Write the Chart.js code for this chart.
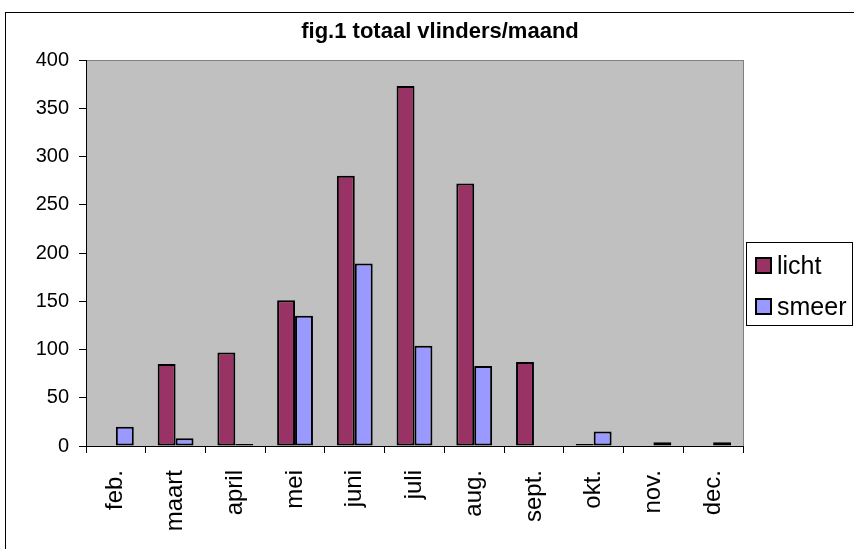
<!DOCTYPE html>
<html>
<head>
<meta charset="utf-8">
<style>
  html, body { margin: 0; padding: 0; background: #fff; }
  #wrap { width: 854px; height: 549px; }
</style>
<script src="https://cdn.jsdelivr.net/npm/chart.js@4/dist/chart.umd.min.js"></script>
</head>
<body>
<div id="wrap"><canvas id="myChart" width="854" height="549"></canvas></div>
<script>
// data
var months = ['feb.', 'maart', 'april', 'mei', 'juni', 'juli', 'aug.', 'sept.', 'okt.', 'nov.', 'dec.'];
var licht = [0, 85, 97, 151, 280, 373, 272, 87, 2, 0, 0];
var smeer = [20, 8, 2, 135, 189, 104, 83, 0, 15, 4, 4];
var yTicks = [0, 50, 100, 150, 200, 250, 300, 350, 400];
var chartTitle = 'fig.1 totaal vlinders/maand';

var font = 'Arial, "Liberation Sans", sans-serif';

// grey plot area, outer frame, title and boxed legend (Excel look)
var excelLook = {
  id: 'excelLook',
  beforeDraw: function(chart) {
    var c = chart.ctx, a = chart.chartArea;
    c.save();
    c.fillStyle = '#c0c0c0';
    c.fillRect(a.left, a.top, a.right - a.left, a.bottom - a.top);
    c.strokeStyle = '#808080';
    c.lineWidth = 1;
    c.strokeRect(a.left + 0.5, a.top + 0.5, a.right - a.left, a.bottom - a.top);
    c.restore();
  },
  afterDraw: function(chart) {
    var c = chart.ctx;
    c.save();
    // outer frame
    c.strokeStyle = '#000';
    c.lineWidth = 1;
    c.strokeRect(5.5, 12.5, 900, 600);

    // title
    c.fillStyle = '#000';
    c.font = 'bold 22px ' + font;
    c.textAlign = 'center';
    c.textBaseline = 'alphabetic';
    c.fillText(chartTitle, 440, 38);

    // legend box
    c.strokeRect(746.5, 242.5, 106, 83);
    var items = chart.data.datasets;
    c.font = '25px ' + font;
    c.textAlign = 'left';
    items.forEach(function(ds, i) {
      var y = 258 + i * 41;
      c.fillStyle = ds.backgroundColor;
      c.fillRect(756, y, 15, 15);
      c.lineWidth = 2;
      c.strokeStyle = '#000';
      c.strokeRect(756, y, 15, 15);
      c.fillStyle = '#000';
      c.fillText(ds.label, 777, y + 16);
    });
    c.restore();
  }
};

var ctx = document.getElementById('myChart').getContext('2d');
var myChart = new Chart(ctx, {
  type: 'bar',
  data: {
    labels: months,
    datasets: [{
      label: 'licht',
      data: licht,
      backgroundColor: '#993366',
      borderColor: '#000',
      borderWidth: 2,
      borderSkipped: false
    }, {
      label: 'smeer',
      data: smeer,
      backgroundColor: '#9999ff',
      borderColor: '#000',
      borderWidth: 2,
      borderSkipped: false
    }]
  },
  options: {
    responsive: false,
    animation: false,
    layout: { padding: { top: 60, right: 111, left: 0, bottom: 0 } },
    plugins: {
      legend: { display: false },
      title: { display: false },
      tooltip: { enabled: false }
    },
    datasets: {
      bar: { categoryPercentage: 0.6, barPercentage: 1 }
    },
    scales: {
      x: {
        grid: { offset: true, drawOnChartArea: false, color: '#000', tickLength: 7 },
        border: { color: '#000', width: 1 },
        ticks: {
          color: '#000',
          font: { family: font, size: 24 },
          minRotation: 90,
          maxRotation: 90,
          padding: 17,
          autoSkip: false
        },
        afterFit: function(scale) { scale.height = 103; }
      },
      y: {
        min: 0,
        max: 400,
        afterBuildTicks: function(scale) {
          scale.ticks = yTicks.map(function(v) { return { value: v }; });
        },
        grid: { drawOnChartArea: false, color: '#000', tickLength: 7 },
        border: { color: '#000', width: 1 },
        ticks: {
          color: '#000',
          font: { family: font, size: 20 },
          padding: 10
        },
        afterFit: function(scale) { scale.width = 86; }
      }
    }
  },
  plugins: [excelLook]
});
</script>
</body>
</html>
